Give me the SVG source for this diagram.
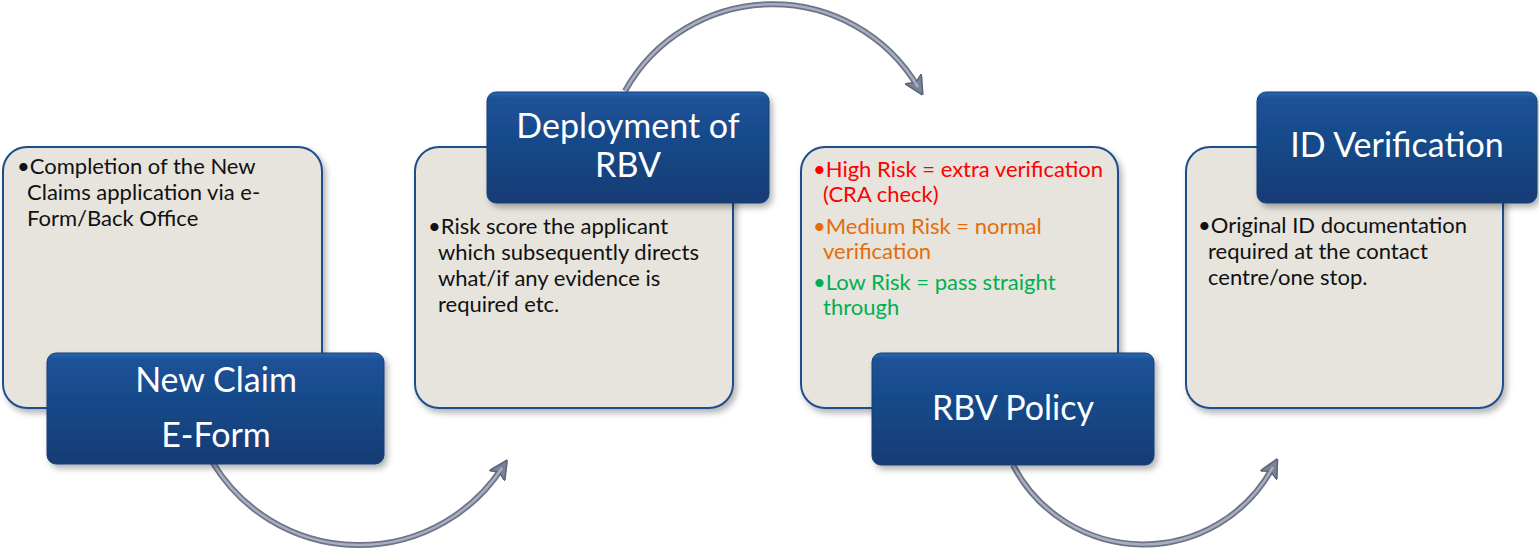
<svg xmlns="http://www.w3.org/2000/svg" width="1539" height="553" viewBox="0 0 1539 553">
<style>
.card{fill:#E6E4DD;stroke:#1F4E8C;stroke-width:2}
.blue{fill:url(#bg);stroke:#143F77;stroke-width:1}
.t{font-family:Lato,"Liberation Sans",sans-serif;font-size:22px;fill:#111}
.h{font-family:Lato,"Liberation Sans",sans-serif;font-size:34px;fill:#fff;text-anchor:middle}
.arcO{fill:none;stroke:#6D7487;stroke-width:6}
.arcI{fill:none;stroke:#A8AFC0;stroke-width:2.5}
</style>
<defs>
<linearGradient id="bg" x1="0" y1="0" x2="0" y2="1">
<stop offset="0" stop-color="#2A66B2"/>
<stop offset="0.06" stop-color="#1C5298"/>
<stop offset="1" stop-color="#123C74"/>
</linearGradient>
<filter id="sh" x="-10%" y="-10%" width="125%" height="130%">
<feDropShadow dx="3" dy="4" stdDeviation="3" flood-color="#000" flood-opacity="0.3"/>
</filter>
<marker id="ah" viewBox="0 0 10 10" refX="5" refY="5" markerWidth="3.2" markerHeight="3.2" orient="auto" markerUnits="strokeWidth">
<path d="M0,0 L10,5 L0,10 L2.5,5 z" fill="#7A8296" stroke="#5E6578" stroke-width="0.8"/>
</marker>
</defs>
<g id="connectors">
<path class="arcO" d="M213,463 A171,171 0 0 0 502,468" marker-end="url(#ah)"/>
<path class="arcI" d="M213,463 A171,171 0 0 0 502,468"/>
<path class="arcO" d="M625,91 A169,169 0 0 1 918,87" marker-end="url(#ah)"/>
<path class="arcI" d="M625,91 A169,169 0 0 1 918,87"/>
<path class="arcO" d="M1013,465 A147,147 0 0 0 1273,467" marker-end="url(#ah)"/>
<path class="arcI" d="M1013,465 A147,147 0 0 0 1273,467"/>
</g>
<g id="node1">
<rect class="card" x="3" y="147" width="319" height="261" rx="24" filter="url(#sh)"/>
<text class="t" x="17" y="174">•Completion of the New</text>
<text class="t" x="27" y="200">Claims application via e-</text>
<text class="t" x="27" y="226">Form/Back Office</text>
<rect class="blue" x="47" y="353" width="337" height="111" rx="9" filter="url(#sh)"/>
<text class="h" x="216" y="392">New Claim</text>
<text class="h" x="216" y="447">E-Form</text>
</g>
<g id="node2">
<rect class="card" x="415" y="147" width="318" height="261" rx="24" filter="url(#sh)"/>
<rect class="blue" x="487" y="92" width="282" height="111" rx="9" filter="url(#sh)"/>
<text class="h" x="628" y="138">Deployment of</text>
<text class="h" x="628" y="177">RBV</text>
<text class="t" x="428" y="234">•Risk score the applicant</text>
<text class="t" x="438" y="260">which subsequently directs</text>
<text class="t" x="438" y="286">what/if any evidence is</text>
<text class="t" x="438" y="312">required etc.</text>
</g>
<g id="node3">
<rect class="card" x="801" y="147" width="317" height="261" rx="24" filter="url(#sh)"/>
<text class="t" x="813" y="177" style="fill:#FF0000">•High Risk = extra verification</text>
<text class="t" x="823" y="202" style="fill:#FF0000">(CRA check)</text>
<text class="t" x="813" y="234" style="fill:#E46C0A">•Medium Risk = normal</text>
<text class="t" x="823" y="259" style="fill:#E46C0A">verification</text>
<text class="t" x="813" y="290" style="fill:#00B050">•Low Risk = pass straight</text>
<text class="t" x="823" y="315" style="fill:#00B050">through</text>
<rect class="blue" x="872" y="353" width="282" height="112" rx="9" filter="url(#sh)"/>
<text class="h" x="1013" y="420">RBV Policy</text>
</g>
<g id="node4">
<rect class="card" x="1186" y="147" width="317" height="261" rx="24" filter="url(#sh)"/>
<rect class="blue" x="1257" y="92" width="280" height="111" rx="9" filter="url(#sh)"/>
<text class="h" x="1397" y="157">ID Verification</text>
<text class="t" x="1198" y="233">•Original ID documentation</text>
<text class="t" x="1208" y="259">required at the contact</text>
<text class="t" x="1208" y="285">centre/one stop.</text>
</g>
</svg>
